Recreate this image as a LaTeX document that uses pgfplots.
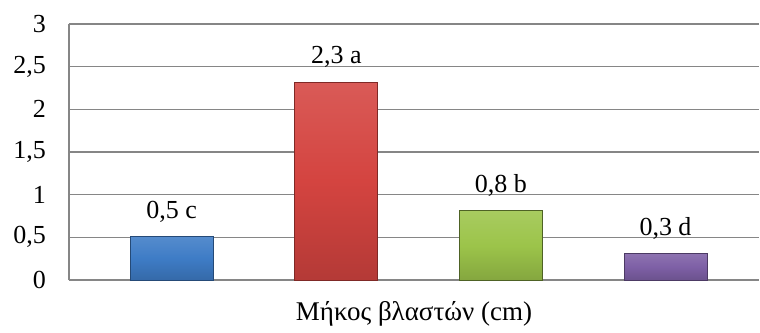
\documentclass[border=0pt]{standalone}
\usepackage{pgfplots}
\pgfplotsset{compat=1.18}
\usepackage{fontspec}
\setmainfont{Liberation Serif}
\definecolor{gridgray}{RGB}{134,134,134}
\definecolor{cblue}{RGB}{62,124,198}
\definecolor{cred}{RGB}{212,68,64}
\definecolor{cgreen}{RGB}{156,196,74}
\definecolor{cpurple}{RGB}{126,96,166}
\begin{document}
\begin{tikzpicture}
\begin{axis}[
  at={(0,0)}, anchor=south west,
  scale only axis,
  width=345pt, height=128pt,
  xmin=-0.624, xmax=3.568,
  ymin=0, ymax=3,
  ytick={0,0.5,...,3},
  xtick=\empty,
  ymajorgrids,
  grid style={gridgray, line width=0.6pt},
  axis line style={gridgray, line width=0.6pt},
  axis x line*=bottom,
  axis y line*=left,
  major tick length=0pt,
  /pgf/number format/.cd, use comma, assume math mode=true,
  /pgfplots/.cd,
  tick label style={font=\fontsize{13}{15}\selectfont},
  yticklabel style={xshift=-8pt},
  xlabel={Μήκος βλαστών (cm)},
  xlabel style={font=\fontsize{13.5}{15}\selectfont, at={(axis description cs:0.5,0)}, anchor=base, yshift=-20pt},
  ybar, bar width=41.5pt, bar shift=0pt,
  point meta=explicit symbolic,
  nodes near coords,
  nodes near coords style={font=\fontsize{13}{15}\selectfont, anchor=south, yshift=3.5pt, text=black},
]
\addplot[draw=cblue!60!black, top color=cblue!88!white, bottom color=cblue!85!black, middle color=cblue] coordinates {(0,0.51) [0,5 c]};
\addplot[draw=cred!60!black, top color=cred!88!white, bottom color=cred!85!black, middle color=cred] coordinates {(1,2.32) [2,3 a]};
\addplot[draw=cgreen!50!black, top color=cgreen!88!white, bottom color=cgreen!85!black, middle color=cgreen] coordinates {(2,0.81) [0,8 b]};
\addplot[draw=cpurple!60!black, top color=cpurple!88!white, bottom color=cpurple!85!black, middle color=cpurple] coordinates {(3,0.31) [0,3 d]};
\end{axis}
\useasboundingbox (-34.5pt,-23pt) rectangle (345.5pt,140pt);
\end{tikzpicture}
\end{document}
